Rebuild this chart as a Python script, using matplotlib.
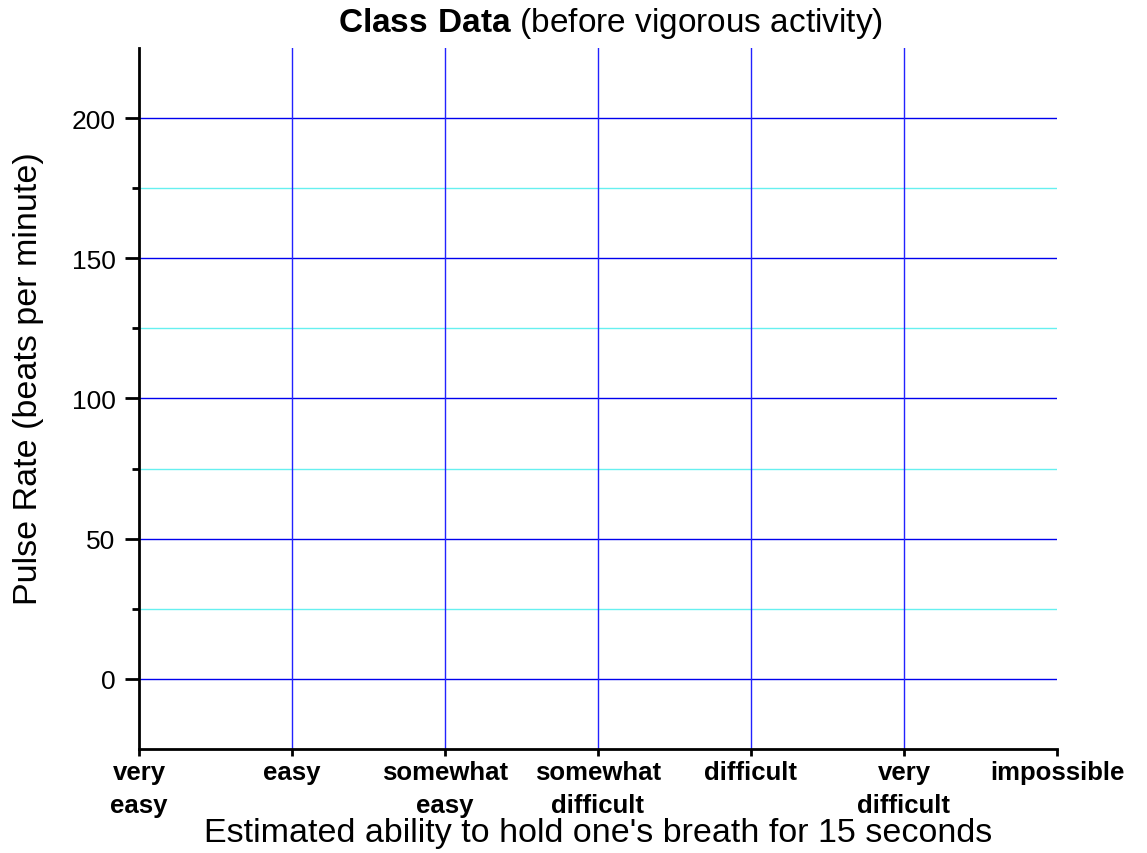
import matplotlib.pyplot as plt

plt.rcParams['font.family'] = ['Liberation Sans', 'DejaVu Sans']
plt.rcParams['mathtext.fontset'] = 'custom'
plt.rcParams['mathtext.bf'] = 'Liberation Sans:bold'
plt.rcParams['mathtext.rm'] = 'Liberation Sans'

# categories along the x axis
categories = ["very\neasy", "easy", "somewhat\neasy", "somewhat\ndifficult",
              "difficult", "very\ndifficult", "impossible"]
y_major = [0, 50, 100, 150, 200]
y_minor = [25, 75, 125, 175]
y_range = (-25, 225)

fig = plt.figure(figsize=(11.47, 8.54), dpi=100)
ax = fig.add_axes([0.1212, 0.1218, 0.8003, 0.8209])

x = list(range(len(categories)))
ax.set_xlim(x[0], x[-1])
ax.set_ylim(*y_range)

# grid lines
for v in y_major:
    ax.axhline(v, color='#0000ee', lw=1.0, zorder=1)
for v in y_minor:
    ax.axhline(v, color='#66f0f0', lw=1.0, zorder=1)
for v in x[1:-1]:
    ax.axvline(v, color='#2222ff', lw=1.0, zorder=1)

ax.set_xticks(x)
ax.set_xticklabels(categories, fontsize=18.5, fontweight='bold', linespacing=1.45)
ax.set_yticks(y_major)
ax.set_yticks(y_minor, minor=True)
ax.tick_params(axis='y', which='major', length=10, width=2, labelsize=19, pad=7)
ax.tick_params(axis='y', which='minor', length=5, width=2)
ax.tick_params(axis='x', which='major', length=5, width=2, pad=3)

for s in ['top', 'right']:
    ax.spines[s].set_visible(False)
for s in ['left', 'bottom']:
    ax.spines[s].set_linewidth(2)

ax.set_ylabel("Pulse Rate (beats per minute)", fontsize=24.5)
ax.yaxis.set_label_coords(-0.104, 0.53)
ax.set_xlabel("Estimated ability to hold one's breath for 15 seconds", fontsize=24.5, labelpad=0)
fig.text(0.532, 0.972, r"$\bf{Class\ Data}$ (before vigorous activity)",
         fontsize=24, ha='center', va='center')

fig.savefig("out.png", dpi=100)
